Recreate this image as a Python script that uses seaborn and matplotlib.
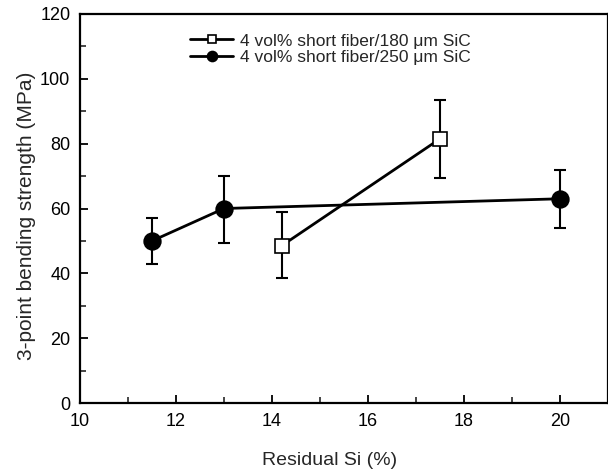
import matplotlib

matplotlib.use("Agg")

import pandas as pd
import seaborn as sns
from matplotlib import pyplot as plt
from matplotlib.ticker import MultipleLocator

# 4 vol% short fiber / 180 um SiC (open squares)
si_180 = [14.2, 17.5]
strength_180 = [48.5, 81.5]
low_180 = [38.5, 69.5]
high_180 = [58.8, 93.5]

# 4 vol% short fiber / 250 um SiC (filled circles)
si_250 = [11.5, 13.0, 20.0]
strength_250 = [50.0, 60.0, 63.0]
low_250 = [43.0, 49.5, 54.0]
high_250 = [57.0, 70.0, 72.0]

label_180 = "4 vol% short fiber/180 \u03bcm SiC"
label_250 = "4 vol% short fiber/250 \u03bcm SiC"

sns.set_style("ticks")
plt.rcParams["font.family"] = ["Liberation Sans", "DejaVu Sans"]

fig = plt.figure(figsize=(6.08, 4.75), dpi=100)
ax = fig.add_axes([80 / 608, 72 / 475, 528 / 608, 389 / 475])


def draw_series(x, y, low, high, marker, face, size, label):
    frame = pd.DataFrame({"si": x, "strength": y})
    yerr = [[v - lo for v, lo in zip(y, low)], [hi - v for v, hi in zip(y, high)]]
    ax.errorbar(x, y, yerr=yerr, fmt="none", ecolor="black", elinewidth=1.5,
                capsize=4, capthick=1.5, zorder=2)
    sns.lineplot(data=frame, x="si", y="strength", ax=ax, color="black",
                 linewidth=2.0, marker=marker, markersize=size,
                 markerfacecolor=face, markeredgecolor="black",
                 markeredgewidth=1.2, label=label, zorder=3)


draw_series(si_180, strength_180, low_180, high_180, "s", "white", 10, label_180)
draw_series(si_250, strength_250, low_250, high_250, "o", "black", 12, label_250)

ax.set_xlim(10, 21)
ax.set_ylim(0, 120)
ax.xaxis.set_major_locator(MultipleLocator(2))
ax.xaxis.set_minor_locator(MultipleLocator(1))
ax.yaxis.set_major_locator(MultipleLocator(20))
ax.yaxis.set_minor_locator(MultipleLocator(10))
ax.tick_params(which="major", direction="in", length=6, width=1.3,
               labelsize=13, colors="black", pad=7)
ax.tick_params(which="minor", direction="in", length=4, width=1.2)
ax.tick_params(top=False, right=False, which="both")
for side in ax.spines.values():
    side.set_linewidth(1.6)
    side.set_color("black")

ax.set_xlabel("Residual Si (%)", fontsize=14, va="center")
ax.set_ylabel("3-point bending strength (MPa)", fontsize=15)
ax.xaxis.set_label_coords(0.473, -0.147)
ax.yaxis.set_label_coords(-0.083, 0.48)

ax.legend(loc="upper left", bbox_to_anchor=(0.195, 0.968), frameon=False,
          fontsize=12.5, handlelength=2.5, handletextpad=0.4,
          labelspacing=0.1, markerscale=0.6, borderaxespad=0.0)

fig.savefig("out.png", dpi=100)
plt.close(fig)
